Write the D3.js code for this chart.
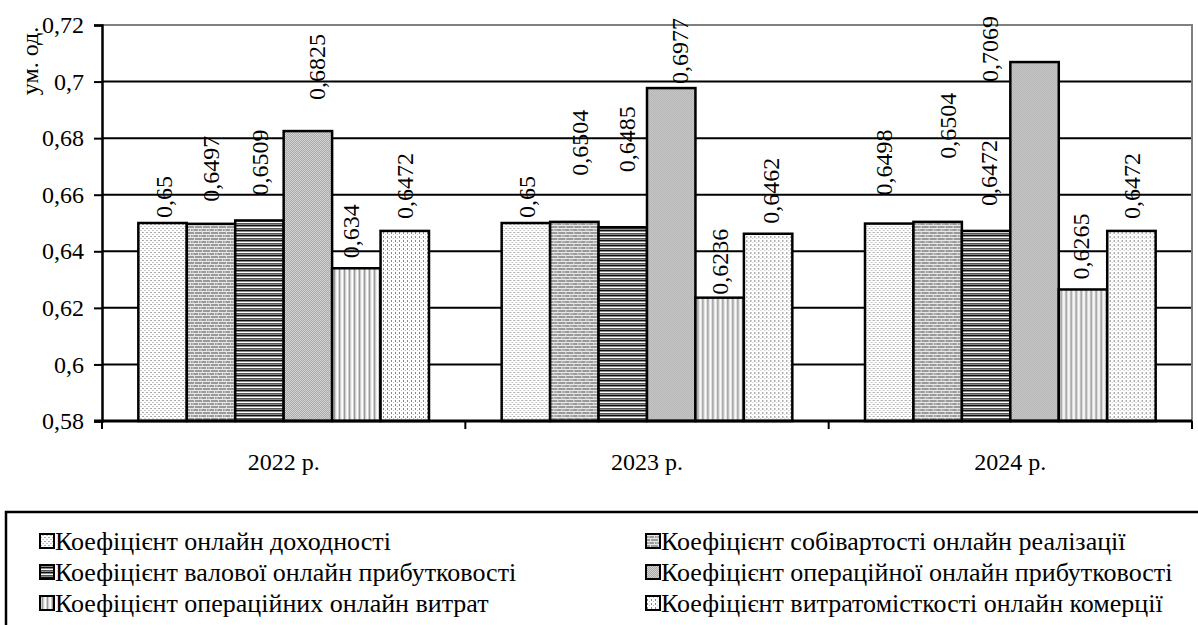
<!DOCTYPE html>
<html><head><meta charset="utf-8">
<script src="https://cdn.jsdelivr.net/npm/d3@7"></script>
<style>body{margin:0;background:#fff}svg{display:block}</style>
</head><body>
<svg id="c" width="1198" height="625"></svg>
<script>
const categories = ["2022 р.", "2023 р.", "2024 р."];
const seriesNames = [
  "Коефіцієнт онлайн доходності",
  "Коефіцієнт собівартості онлайн реалізації",
  "Коефіцієнт валової онлайн прибутковості",
  "Коефіцієнт операційної онлайн прибутковості",
  "Коефіцієнт операційних онлайн витрат",
  "Коефіцієнт витратомісткості онлайн комерції"
];
const revenueRatio   = [0.65, 0.65, 0.6498];
const costRatio      = [0.6497, 0.6504, 0.6504];
const grossRatio     = [0.6509, 0.6485, 0.6472];
const operProfit     = [0.6825, 0.6977, 0.7069];
const operCosts      = [0.634, 0.6236, 0.6265];
const costIntensity  = [0.6472, 0.6462, 0.6472];
const labelTexts = [
  ["0,65", "0,65", "0,6498"],
  ["0,6497", "0,6504", "0,6504"],
  ["0,6509", "0,6485", "0,6472"],
  ["0,6825", "0,6977", "0,7069"],
  ["0,634", "0,6236", "0,6265"],
  ["0,6472", "0,6462", "0,6472"]
];
const yTicks = [0.58, 0.6, 0.62, 0.64, 0.66, 0.68, 0.7, 0.72];
const yTickLabels = ["0,58", "0,6", "0,62", "0,64", "0,66", "0,68", "0,7", "0,72"];
const yTitle = "ум. од.";
const seriesValues = [revenueRatio, costRatio, grossRatio, operProfit, operCosts, costIntensity];

// manual label nudges from the reference: [dx, gap above bar]
const labelNudge = [
  [[1,5],[1,5],[-6,28]],
  [[0,22],[5,46],[10,63]],
  [[0,25],[4,55],[2,25]],
  [[9,31],[8,4],[-45,-20]],
  [[-6,10],[0,3],[-2,10]],
  [[0,12],[2,10],[0,12]]
];

const FONT = "'Liberation Serif', 'Times New Roman', serif";
const svg = d3.select("#c");
const L = 102, R = 1192, T = 25, B = 421;
const x0 = d3.scaleBand().domain(categories).range([L, R]).paddingInner(0).paddingOuter(0);
const x1 = d3.scaleBand().domain(d3.range(6)).range([0, x0.bandwidth()]).paddingInner(0).paddingOuter(0.75);
const y = d3.scaleLinear().domain([0.58, 0.72]).range([B, T]);

// patterns
const defs = svg.append("defs");
function pat(id, w, h, bg, rects) {
  const p = defs.append("pattern").attr("id", id).attr("patternUnits", "userSpaceOnUse").attr("width", w).attr("height", h);
  p.append("rect").attr("width", w).attr("height", h).attr("fill", bg);
  rects.forEach(r => p.append("rect").attr("x", r[0]).attr("y", r[1]).attr("width", r[2]).attr("height", r[3]).attr("fill", r[4]));
}
pat("p0", 4, 4, "#fff", [[0,0,2,1,"#a8a8a8"],[2,2,2,1,"#c8c8c8"]]);
pat("p1", 8, 6, "#9a9a9a", [[0,0,8,1,"#e8e8e8"],[0,3,8,1,"#e8e8e8"],[0,1,1,2,"#e0e0e0"],[4,4,1,2,"#e0e0e0"],[2,1,2,2,"#b5b5b5"]]);
pat("p2", 2, 5, "#8a8a8a", [[0,0,2,1,"#111"],[0,2,2,1,"#fff"],[0,3,2,1,"#555"]]);
pat("p3", 2, 2, "#a8a8a8", [[0,0,1,1,"#d4d4d4"],[1,1,1,1,"#d4d4d4"]]);
pat("p4", 5, 2, "#d0d0d0", [[0,0,1,2,"#fff"],[2,0,1,2,"#999"],[4,0,1,2,"#f0f0f0"]]);
pat("p5", 4, 4, "#fff", [[1,0,1,2,"#888"],[3,2,1,1,"#c0c0c0"]]);

// gridlines
svg.append("g").selectAll("line").data(yTicks.filter(v => v > 0.58 && v < 0.72)).join("line")
  .attr("x1", L).attr("x2", R).attr("y1", d => y(d)).attr("y2", d => y(d))
  .attr("stroke", "#000").attr("stroke-width", 2);
svg.append("path").attr("d", `M${L},${T}H${R}V${B}`).attr("fill", "none").attr("stroke", "#808080").attr("stroke-width", 2);

// bars
const groups = svg.append("g").selectAll("g").data(categories).join("g")
  .attr("transform", d => `translate(${x0(d)},0)`);
groups.each(function(cat, ci) {
  const g = d3.select(this);
  seriesValues.forEach((vals, si) => {
    g.append("rect")
      .attr("x", x1(si)).attr("width", x1.bandwidth())
      .attr("y", y(vals[ci])).attr("height", B - y(vals[ci]))
      .attr("fill", `url(#p${si})`).attr("stroke", "#000").attr("stroke-width", 2.5);
  });
});
groups.each(function(cat, ci) {
  const g = d3.select(this);
  seriesValues.forEach((vals, si) => {
    const nd = labelNudge[si][ci];
    const cx = x1(si) + x1.bandwidth() / 2 + nd[0];
    const cy = y(vals[ci]) - nd[1];
    g.append("text").attr("transform", `translate(${cx},${cy}) rotate(-90)`)
      .attr("dy", "0.35em").attr("text-anchor", "start")
      .style("font-family", FONT).style("font-size", "24px").style("fill", "#000")
      .text(labelTexts[si][ci]);
  });
});

// y axis
const yAxis = d3.axisLeft(y).tickValues(yTicks).tickFormat((d, i) => yTickLabels[i]).tickSize(8).tickPadding(10);
const ya = svg.append("g").attr("transform", `translate(${L},0)`).call(yAxis);
ya.select(".domain").attr("stroke", "#000").attr("stroke-width", 2.5);
ya.selectAll(".tick line").attr("stroke", "#000").attr("stroke-width", 2);
ya.selectAll("text").style("font-family", FONT).style("font-size", "24px").style("fill", "#000");

// x axis
const xAxis = d3.axisBottom(x0).tickSize(0).tickPadding(32);
const xa = svg.append("g").attr("transform", `translate(0,${B})`).call(xAxis);
xa.select(".domain").attr("stroke", "#000").attr("stroke-width", 3).attr("d", `M${L - 8},0H${R}`);
xa.selectAll("text").style("font-family", FONT).style("font-size", "24px").style("fill", "#000");
xa.append("g").selectAll("line").data([L, ...categories.map(c => x0(c) + x0.bandwidth())]).join("line")
  .attr("x1", d => d).attr("x2", d => d).attr("y1", 0).attr("y2", 8).attr("stroke", "#000").attr("stroke-width", 2);

// y title
svg.append("text").attr("transform", `translate(30,61) rotate(-90)`).attr("text-anchor", "middle")
  .attr("dy", "0.35em").style("font-family", FONT).style("font-size", "24px").style("fill", "#000").text(yTitle);

// legend
svg.append("rect").attr("x", 6).attr("y", 512).attr("width", 1200).attr("height", 200)
  .attr("fill", "none").attr("stroke", "#000").attr("stroke-width", 2.5);
const leg = svg.append("g").selectAll("g").data(seriesNames).join("g")
  .attr("transform", (d, i) => `translate(${i % 2 === 0 ? 40 : 646},${541 + Math.floor(i / 2) * 31})`);
leg.append("rect").attr("x", 0).attr("y", -7).attr("width", 14).attr("height", 14)
  .attr("fill", (d, i) => `url(#p${i})`).attr("stroke", "#000").attr("stroke-width", 2);
leg.append("text").attr("x", 15).attr("dy", "0.35em")
  .style("font-family", FONT).style("font-size", "26px").style("fill", "#000").text(d => d);
</script>
</body></html>
